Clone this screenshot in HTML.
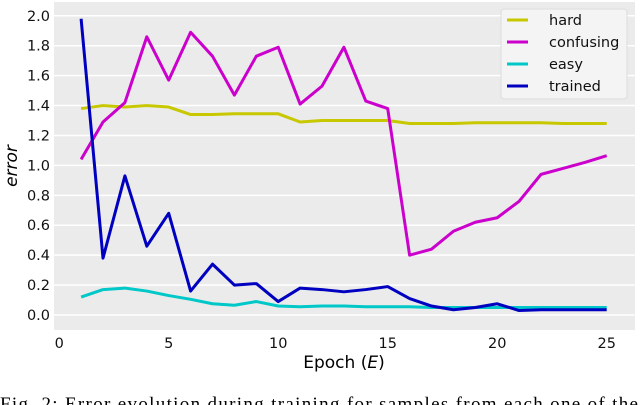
<!DOCTYPE html>
<html><head><meta charset="utf-8"><style>
body{margin:0;background:#fff;width:640px;height:405px;overflow:hidden;font-family:"DejaVu Sans","Liberation Sans",sans-serif}
svg{display:block}
</style></head><body>
<svg width="640" height="405" viewBox="0 0 640 405" xmlns="http://www.w3.org/2000/svg">
<rect x="54" y="2" width="581" height="328" fill="#ebebeb"/>
<g id="grid"></g>
<g id="series"></g>
<g id="ticks" font-size="14.5" fill="#111"></g>
<text x="344" y="368" font-size="17" text-anchor="middle">Epoch (<tspan font-style="italic">E</tspan>)</text>
<text transform="translate(17,166) rotate(-90)" font-size="17" font-style="italic" text-anchor="middle">error</text>
<g>
<rect x="501" y="9" width="126" height="90" rx="3" fill="#f4f4f4" stroke="#dcdcdc"/>
<g id="legend"></g>
</g>
<text x="0" y="410" font-family="Liberation Serif,serif" font-size="19" textLength="638" lengthAdjust="spacing">Fig. 2: Error evolution during training for samples from each one of the</text>
</svg>
<script>
const epochs=[1,2,3,4,5,6,7,8,9,10,11,12,13,14,15,16,17,18,19,20,21,22,23,24,25];
const hard=[1.38,1.40,1.39,1.40,1.39,1.34,1.34,1.345,1.345,1.345,1.29,1.30,1.30,1.30,1.30,1.28,1.28,1.28,1.285,1.285,1.285,1.285,1.28,1.28,1.28];
const confusing=[1.04,1.29,1.42,1.86,1.57,1.89,1.73,1.47,1.73,1.79,1.41,1.53,1.79,1.43,1.38,0.40,0.44,0.56,0.62,0.65,0.76,0.94,0.98,1.02,1.065];
const easy=[0.12,0.17,0.18,0.16,0.13,0.105,0.075,0.065,0.09,0.06,0.055,0.06,0.06,0.055,0.055,0.055,0.05,0.05,0.05,0.05,0.05,0.05,0.05,0.05,0.05];
const trained=[1.98,0.38,0.93,0.46,0.68,0.16,0.34,0.20,0.21,0.09,0.18,0.17,0.155,0.17,0.19,0.11,0.06,0.035,0.05,0.075,0.03,0.035,0.035,0.035,0.035];
const xTicks=[0,5,10,15,20,25];
const yTicks=[0.0,0.2,0.4,0.6,0.8,1.0,1.2,1.4,1.6,1.8,2.0];
const seriesNames=["hard","confusing","easy","trained"];
const seriesColors=["#c8c800","#cc00cc","#00c8c8","#0000c0"];
const NS="http://www.w3.org/2000/svg";
const xs=v=>59.2+v*21.9;
const ys=v=>315-v*149.6;
function mk(tag,attrs,parent){const e=document.createElementNS(NS,tag);for(const k in attrs)e.setAttribute(k,attrs[k]);parent.appendChild(e);return e;}
const grid=document.getElementById('grid'),ticks=document.getElementById('ticks');
yTicks.forEach(t=>{
 const l=mk('line',{x1:54,x2:635,y1:ys(t),y2:ys(t),stroke:'#fff','stroke-width':1.5},grid);
 
 
 const tx=mk('text',{x:50,y:ys(t)+5,'text-anchor':'end'},ticks);
 
 
 tx.textContent=t.toFixed(1);
});
xTicks.forEach(t=>{
 const tx=mk('text',{x:xs(t),y:348,'text-anchor':'middle'},ticks);
 
 
 tx.textContent=t;
});
const data=[hard,confusing,easy,trained];
const sg=document.getElementById('series'),lg=document.getElementById('legend');
data.forEach((d,i)=>{
 const p=mk('polyline',{points:d.map((v,j)=>xs(epochs[j])+','+ys(v)).join(' '),fill:'none',stroke:seriesColors[i],'stroke-width':3,'stroke-linejoin':'round'},sg);
 
 
 const y=20+i*22;
 const ll=mk('line',{x1:507,x2:528,y1:y,y2:y,stroke:seriesColors[i],'stroke-width':3},lg);
 
 
 const lt=mk('text',{x:549,y:y+5,'font-size':14.5,fill:'#111'},lg);
 
 
 lt.textContent=seriesNames[i];
});
</script>
</body></html>
